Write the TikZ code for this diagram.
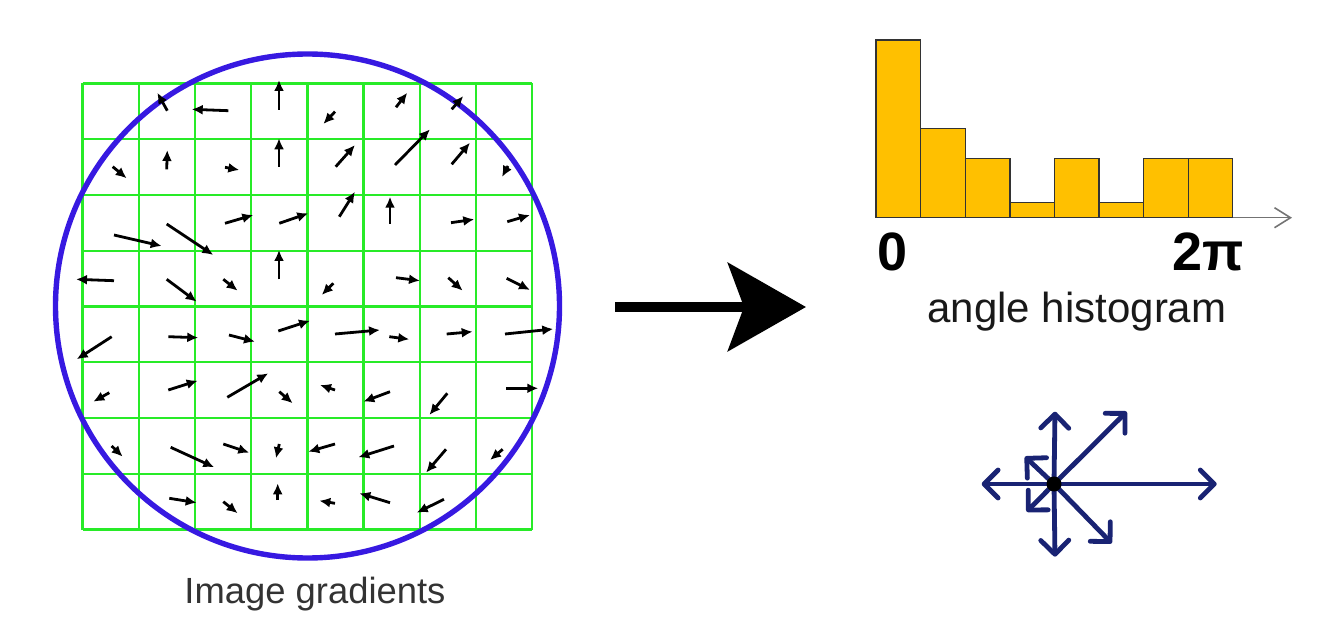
\documentclass[tikz,border=0pt]{standalone}
\usepackage{fontspec}
\setmainfont{Liberation Sans}
\usetikzlibrary{arrows.meta}
\definecolor{gridgreen}{RGB}{40,235,40}
\definecolor{circblue}{RGB}{55,25,225}
\definecolor{barfill}{RGB}{255,192,0}
\definecolor{navy}{RGB}{25,35,115}
\tikzset{
  gradarrow/.style={line width=1.4pt, -{Latex[length=5.5pt,width=5pt]}},
  gridline/.style={gridgreen, line width=1.2pt},
  bar/.style={fill=barfill, draw=black!80, line width=0.7pt},
  stararrow/.style={navy, line width=2.4pt, line cap=round, -{Straight Barb[length=7pt,width=14pt,round]}},
  lbl/.style={inner sep=0pt, anchor=base}
}
\begin{document}
\begin{tikzpicture}[x=0.5pt, y=-0.5pt]
\useasboundingbox (0,0) rectangle (1340,620);
% grid
\foreach \i in {0,...,8} {
  \draw[gridline] ({82.5+56.2*\i},83.5) -- ({82.5+56.2*\i},529.5);
  \draw[gridline] (82.5,{83.5+55.75*\i}) -- (532.1,{83.5+55.75*\i});
}
% circle
\draw[circblue, line width=2.7pt] (307.5,306) circle [radius=252];
% gradient arrows
\foreach \ax/\ay/\bx/\by in {
 167.3/110.7/157.3/92.7, 228.3/110.7/191.7/109.3, 279/110/279/80, 335/111.7/323.3/124,
 396/107.3/407.3/92.7, 451.7/109.3/463.3/96,
 112.7/166.7/126.7/178.3, 166.7/169.3/167.3/150, 225/167.3/239.3/170, 279/166.7/279/138.3,
 335.7/166.7/355/145, 395/165/430/129.3, 451.7/164.3/470/142.7, 508/166/502/177,
 114/235/161.7/246, 166.7/224/213.3/255, 225/223.3/253.3/215, 279.3/223.3/308.3/213.3,
 339.3/216.7/355/191.7, 390/224/390/196.7, 451/222.7/474.3/219.3, 507.3/221.7/530/215,
 114/280.7/76/279.3, 166.7/279.3/196.7/301.7, 223.3/279.3/237.7/290.7, 279/279.3/279/250,
 333.3/283.3/321.7/295, 396/277.7/420/280.7, 448.3/277.7/462.7/290.7, 506.7/278.3/530/290,
 111.7/336.7/76.7/359.3, 168.3/336.7/198.3/337.7, 229/335/255/341.7, 278.3/331/310/320.7,
 335/334/380/330, 389.3/336.7/409.3/339.3, 446.7/334/472.7/331.7, 505/334/553.3/329,
 109.3/392.7/93.3/401.7, 168.3/390/197.7/380.7, 227.3/397.3/268.3/373.3, 279.3/391.7/292.7/403.3,
 335/390/320/385, 390/391.7/363.3/401.7, 447.3/393.3/429.3/415, 506/388.3/538.3/388.3,
 111.7/446/122.7/456.7, 170.7/447.3/214.3/467.3, 223.3/444/249.3/452.7, 279.3/444/276/458.3,
 335/444/308.3/451.7, 394/446/358.3/457.3, 446/449.3/426/472.7, 502.7/449.3/490/460,
 169.3/498.3/196.7/502.7, 223.3/501.7/237.7/513.3, 277.7/500/277.7/483.3,
 335/503.3/319.3/500.7, 390/502.7/359.3/493.3, 444/499.3/416.7/512.7}
{\draw[gradarrow] (\ax,\ay) -- (\bx,\by);}
\node[lbl, text=black!80, font=\fontsize{18.2pt}{20pt}\selectfont] (imglbl) at (315,603) {Image gradients};
% big arrow
\coordinate (bigA) at (615,307);
\coordinate (bigB) at (806,307);
\draw[line width=5pt, -{Stealth[length=39pt,width=44pt,inset=8pt]}] (bigA) -- (bigB);
% histogram
\draw[bar] (876,217.7) rectangle (920.7,40);
\draw[bar] (920.7,217.7) rectangle (965.3,128.3);
\draw[bar] (965.3,217.7) rectangle (1010,158.3);
\draw[bar] (1010,217.7) rectangle (1054.3,202.7);
\draw[bar] (1054.3,217.7) rectangle (1099,158.3);
\draw[bar] (1099,217.7) rectangle (1143.3,202.7);
\draw[bar] (1143.3,217.7) rectangle (1188.3,158.3);
\draw[bar] (1188.3,217.7) rectangle (1232.7,158.3);
\coordinate (axA) at (1232.7,217.7);
\coordinate (axB) at (1292,217.7);
\draw[black!55, line width=0.8pt, -{Straight Barb[length=8pt,width=10pt]}] (axA) -- (axB);
\node[lbl, font=\fontsize{27pt}{30pt}\selectfont\bfseries] (zero) at (893,271) {0};
\node[lbl, font=\fontsize{27pt}{30pt}\selectfont\bfseries] (twopi) at (1208,271) {2π};
\node[lbl, text=black!90, font=\fontsize{21pt}{24pt}\selectfont] (anglbl) at (1077,323) {angle histogram};
% star
\coordinate (c) at (1054,484);
\coordinate (t1) at (1055,411.7);
\coordinate (t2) at (1126.7,411.7);
\coordinate (t3) at (1216.7,484);
\coordinate (t4) at (1111.7,543.3);
\coordinate (t5) at (1055,556.7);
\coordinate (t6) at (1026.7,511.7);
\coordinate (t7) at (1025,456.7);
\coordinate (t8) at (981.7,484);
\foreach \t in {t1,t2,t3,t4,t5,t6,t7,t8} {\draw[stararrow] (c) -- (\t);}
\fill[black] (c) circle [radius=7.5];
\end{tikzpicture}
\end{document}
